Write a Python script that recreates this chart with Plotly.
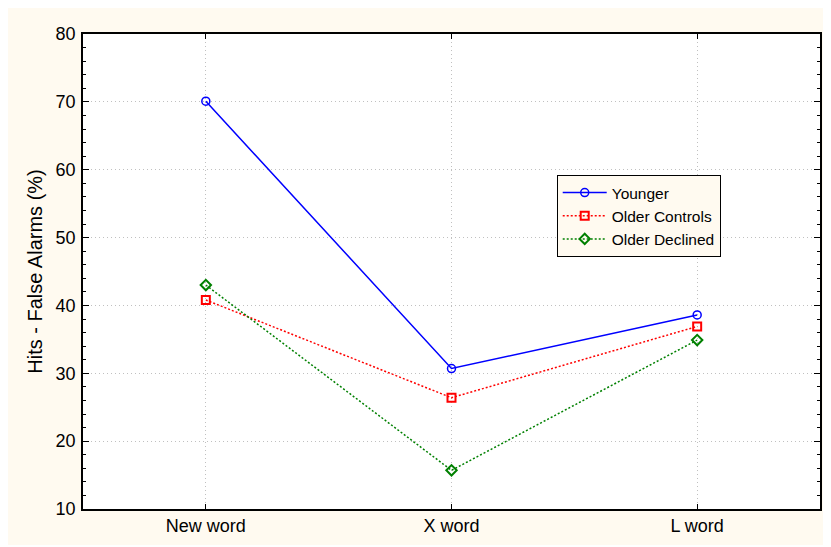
import plotly.graph_objects as go

categories = ["New word", "X word", "L word"]
younger = [70.1, 30.7, 38.6]
older_controls = [40.8, 26.4, 36.9]
older_declined = [43.0, 15.7, 34.9]
y_ticks = [10, 20, 30, 40, 50, 60, 70, 80]

# page body has an 8px margin; figure sits at (8, 8)
W, H = 823, 537
L, R, T, B = 75, 9, 26, 36
pw, ph = W - L - R, H - T - B

def px(x):
    return (x - 8 - L) / pw

def py(y):
    return (H - B - (y - 8)) / ph

cream = "#FFFAF0"
font = "Liberation Sans, Arial, sans-serif"

fig = go.Figure()
fig.add_trace(go.Scatter(x=[0, 1, 2], y=younger, name="Younger", mode="lines+markers",
                         line=dict(color="#0000FF", width=1.5),
                         marker=dict(symbol="circle-open", size=8, color="#0000FF", line=dict(width=1.5))))
fig.add_trace(go.Scatter(x=[0, 1, 2], y=older_controls, name="Older Controls", mode="lines+markers",
                         line=dict(color="#FF0000", width=1.5, dash="2px,2px"),
                         marker=dict(symbol="square-open", size=8, color="#FF0000", line=dict(width=2))))
fig.add_trace(go.Scatter(x=[0, 1, 2], y=older_declined, name="Older Declined", mode="lines+markers",
                         line=dict(color="#008000", width=1.5, dash="2px,2px"),
                         marker=dict(symbol="diamond-open", size=8, color="#008000", line=dict(width=2))))

fig.update_layout(
    width=W, height=H,
    margin=dict(l=L, r=R, t=T, b=B),
    paper_bgcolor=cream, plot_bgcolor="white",
    font=dict(family=font, size=18, color="black"),
    showlegend=True,
    legend=dict(x=px(558), y=py(175), xanchor="left", yanchor="top",
                bgcolor=cream, bordercolor="black", borderwidth=1,
                font=dict(size=15.5), tracegroupgap=0, itemwidth=44),
)
fig.update_xaxes(range=[-0.5, 2.5], tickvals=[0, 1, 2], ticktext=categories,
                 showgrid=True, gridcolor="#C0C0C0", griddash="1px,3px", gridwidth=1,
                 showline=True, linecolor="black", linewidth=1.5, mirror="allticks",
                 ticks="inside", ticklen=5, tickcolor="black", zeroline=False,
                 tickfont=dict(size=18))
fig.update_yaxes(range=[10, 80], tickvals=y_ticks,
                 showgrid=True, gridcolor="#C0C0C0", griddash="1px,3px", gridwidth=1,
                 showline=True, linecolor="black", linewidth=1.5, mirror="allticks",
                 ticks="inside", ticklen=6, tickcolor="black", zeroline=False,
                 minor=dict(dtick=2, ticks="inside", ticklen=3, tickcolor="black", showgrid=False),
                 tickfont=dict(size=18), ticklabelstandoff=2,
                 title=dict(text="Hits - False Alarms (%)", font=dict(size=20), standoff=8))

fig.write_html("out.html")
